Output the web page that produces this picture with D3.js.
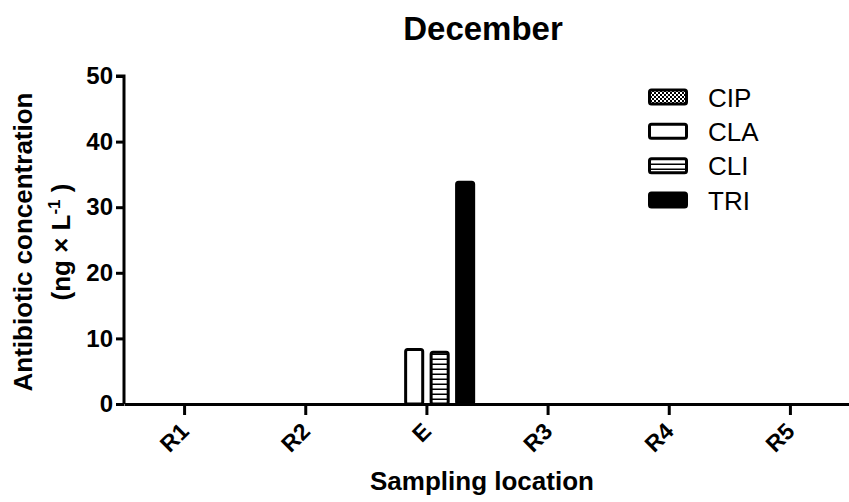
<!DOCTYPE html>
<html lang="en">
<head>
<meta charset="UTF-8">
<title>December</title>
<script src="https://cdn.jsdelivr.net/npm/d3@7"></script>
<style>
  body { margin: 0; background: #fff; }
  text { font-family: "Liberation Sans", Arial, sans-serif; font-weight: bold; fill: #000; }
</style>
</head>
<body>
<script>
    // data
    let locations = ["R1", "R2", "E", "R3", "R4", "R5"]
    let antibiotics = ["CIP", "CLA", "CLI", "TRI"]
    let CIP = [0, 0, 0, 0, 0, 0]
    let CLA = [0, 0, 8.3, 0, 0, 0]
    let CLI = [0, 0, 7.9, 0, 0, 0]
    let TRI = [0, 0, 33.8, 0, 0, 0]
    let yTicks = [0, 10, 20, 30, 40, 50]

    let series = { CIP: CIP, CLA: CLA, CLI: CLI, TRI: TRI }

    let width = 849
    let height = 502

    let svg = d3.select("body").append("svg")
        .attr("width", width)
        .attr("height", height)

    let defs = svg.append("defs")
    // checker pattern for CIP
    let chk = defs.append("pattern").attr("id", "chk")
        .attr("width", 4).attr("height", 4).attr("patternUnits", "userSpaceOnUse")
    chk.append("rect").attr("width", 4).attr("height", 4).attr("fill", "#000")
    chk.append("rect").attr("width", 2).attr("height", 2).attr("fill", "#fff")
    chk.append("rect").attr("x", 2).attr("y", 2).attr("width", 2).attr("height", 2).attr("fill", "#fff")
    // horizontal stripes for CLI
    let hs = defs.append("pattern").attr("id", "hstripe")
        .attr("width", 8).attr("height", 5).attr("patternUnits", "userSpaceOnUse")
    hs.append("rect").attr("width", 8).attr("height", 5).attr("fill", "#fff")
    hs.append("rect").attr("y", 3.5).attr("width", 8).attr("height", 1.5).attr("fill", "#000")

    let fills = { CIP: "url(#chk)", CLA: "#fff", CLI: "url(#hstripe)", TRI: "#000" }

    let x = d3.scaleBand().domain(locations).range([124, 851])
    let xs = d3.scaleBand().domain(antibiotics).range([-46.75, 46.75]).paddingInner(0.33)
    let y = d3.scaleLinear().domain([0, 50]).range([404, 76])

    // bars
    locations.forEach((loc, i) => {
        let cx = x(loc) + x.bandwidth() / 2
        antibiotics.forEach(ab => {
            let v = series[ab][i]
            if (v <= 0) return
            svg.append("rect")
                .attr("x", cx + xs(ab))
                .attr("y", y(v))
                .attr("width", xs.bandwidth())
                .attr("height", y(0) - y(v))
                .attr("rx", 2)
                .attr("fill", fills[ab])
                .attr("stroke", "#000")
                .attr("stroke-width", 3)
        })
    })

    // y axis
    let yAxis = svg.append("g")
        .attr("transform", "translate(124,0)")
        .call(d3.axisLeft(y).tickValues(yTicks).tickSize(8).tickPadding(3).tickFormat(d3.format("d")))
    yAxis.selectAll("path, line").attr("stroke", "#000").attr("stroke-width", 3)
    yAxis.select(".domain").attr("d", "M-8," + y(50) + "H0V" + y(0))
    yAxis.selectAll("text").style("font-size", "24px").attr("font-family", null)

    // x axis
    let xAxis = svg.append("g")
        .attr("transform", "translate(0,404)")
        .call(d3.axisBottom(x).tickSize(11).tickSizeOuter(0).tickFormat(""))
    xAxis.selectAll("path, line").attr("stroke", "#000").attr("stroke-width", 3)

    locations.forEach(loc => {
        let cx = x(loc) + x.bandwidth() / 2
        svg.append("text")
            .attr("transform", "translate(" + (cx - 6) + ",421) rotate(-45)")
            .attr("text-anchor", "end")
            .attr("dy", "0.72em")
            .style("font-size", "23px")
            .text(loc)
    })

    // titles
    svg.append("text")
        .attr("x", 483).attr("y", 40)
        .attr("text-anchor", "middle")
        .style("font-size", "33px")
        .text("December")

    svg.append("text")
        .attr("x", 482).attr("y", 490)
        .attr("text-anchor", "middle")
        .style("font-size", "26px")
        .text("Sampling location")

    let yt = svg.append("text")
        .attr("transform", "translate(32,242) rotate(-90)")
        .attr("text-anchor", "middle")
        .style("font-size", "26px")
    yt.append("tspan").attr("x", 0).attr("dy", 0).text("Antibiotic concentration")
    yt.append("tspan").attr("x", 0).attr("dy", 38).text("(ng × L")
    yt.append("tspan").attr("dy", -10).style("font-size", "17px").text("-1")
    yt.append("tspan").attr("dy", 10).text(" )")

    // legend
    let legend = svg.append("g")
    let ly = d3.scalePoint().domain(antibiotics).range([97, 200])
    antibiotics.forEach(ab => {
        legend.append("rect")
            .attr("x", 649.5).attr("y", ly(ab) - 7)
            .attr("width", 37).attr("height", 14)
            .attr("rx", 2)
            .attr("fill", fills[ab])
            .attr("stroke", "#000")
            .attr("stroke-width", 3)
        legend.append("text")
            .attr("x", 708).attr("y", ly(ab) + 9.5)
            .style("font-size", "26px")
            .style("font-weight", "normal")
            .text(ab)
    })
</script>
</body>
</html>
